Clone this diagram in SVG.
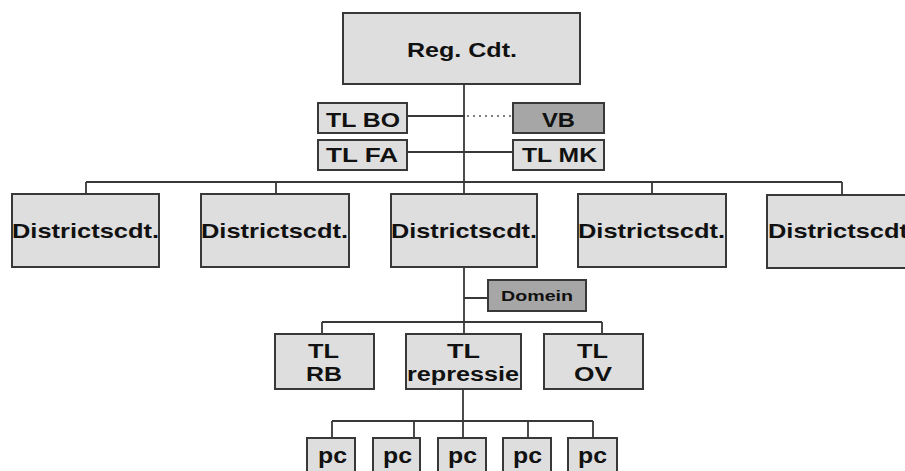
<svg xmlns="http://www.w3.org/2000/svg" width="905" height="471" viewBox="0 0 905 471">
<style>
.box{fill:#dedede;stroke:#383838;stroke-width:2}
.dark{fill:#a6a6a6;stroke:#383838;stroke-width:2}
.t{font-family:"Liberation Sans",Arial,sans-serif;font-weight:bold;fill:#111}
.c{stroke:#383838;stroke-width:1.8;fill:none}
.dot{stroke:#555;stroke-width:1.6;stroke-dasharray:2 4;fill:none}
</style>
<rect width="905" height="471" fill="#fff"/>
<g id="connectors">
<path class="c" d="M464 84V194"/>
<path class="c" d="M407 116H465"/>
<path class="dot" d="M467 116H513"/>
<path class="c" d="M407 152H513"/>
<path class="c" d="M86 182H842M86 182V194M276 182V194M652 182V194M842 182V194"/>
<path class="c" d="M464 267V334M464 298H488"/>
<path class="c" d="M322 322H602M322 322V334M602 322V334"/>
<path class="c" d="M463 389V438M332 421H593M332 421V438M414 421V438M528 421V438M593 421V438"/>
</g>
<g id="reg"><rect class="box" x="343" y="13" width="237" height="71"/><text class="t" x="407" y="57" font-size="20" textLength="110" lengthAdjust="spacingAndGlyphs">Reg. Cdt.</text></g>
<g id="tlbo"><rect class="box" x="318" y="103" width="89" height="30"/><text class="t" x="326" y="127" font-size="21" textLength="74" lengthAdjust="spacingAndGlyphs">TL BO</text></g>
<g id="vb"><rect class="dark" x="513" y="103" width="91" height="30"/><text class="t" x="542" y="127" font-size="21" textLength="33" lengthAdjust="spacingAndGlyphs">VB</text></g>
<g id="tlfa"><rect class="box" x="318" y="140" width="89" height="30"/><text class="t" x="326" y="162" font-size="21" textLength="72" lengthAdjust="spacingAndGlyphs">TL FA</text></g>
<g id="tlmk"><rect class="box" x="513" y="140" width="91" height="30"/><text class="t" x="522" y="162" font-size="21" textLength="75" lengthAdjust="spacingAndGlyphs">TL MK</text></g>
<g id="d1"><rect class="box" x="12" y="194" width="147" height="73"/><text class="t" x="12" y="238" font-size="21" textLength="147" lengthAdjust="spacingAndGlyphs">Districtscdt.</text></g>
<g id="d2"><rect class="box" x="201" y="194" width="148" height="73"/><text class="t" x="201" y="238" font-size="21" textLength="147" lengthAdjust="spacingAndGlyphs">Districtscdt.</text></g>
<g id="d3"><rect class="box" x="391" y="194" width="146" height="73"/><text class="t" x="391" y="238" font-size="21" textLength="146" lengthAdjust="spacingAndGlyphs">Districtscdt.</text></g>
<g id="d4"><rect class="box" x="578" y="194" width="148" height="73"/><text class="t" x="578" y="238" font-size="21" textLength="147" lengthAdjust="spacingAndGlyphs">Districtscdt.</text></g>
<g id="d5"><rect class="box" x="767" y="195" width="150" height="73"/><text class="t" x="768" y="238" font-size="21" textLength="147" lengthAdjust="spacingAndGlyphs">Districtscdt.</text></g>
<g id="domein"><rect class="dark" x="488" y="280" width="98" height="31"/><text class="t" x="501" y="301" font-size="14" textLength="72" lengthAdjust="spacingAndGlyphs">Domein</text></g>
<g id="tlrb"><rect class="box" x="275" y="334" width="99" height="55"/><text class="t" x="308" y="358" font-size="20" textLength="31" lengthAdjust="spacingAndGlyphs">TL</text><text class="t" x="306" y="381" font-size="20" textLength="36" lengthAdjust="spacingAndGlyphs">RB</text></g>
<g id="tlrep"><rect class="box" x="406" y="334" width="115" height="55"/><text class="t" x="447" y="358" font-size="20" textLength="33" lengthAdjust="spacingAndGlyphs">TL</text><text class="t" x="407" y="381" font-size="20" textLength="112" lengthAdjust="spacingAndGlyphs">repressie</text></g>
<g id="tlov"><rect class="box" x="544" y="334" width="99" height="55"/><text class="t" x="577" y="358" font-size="20" textLength="31" lengthAdjust="spacingAndGlyphs">TL</text><text class="t" x="574" y="381" font-size="20" textLength="38" lengthAdjust="spacingAndGlyphs">OV</text></g>
<g id="pc1"><rect class="box" x="307" y="438" width="48" height="45"/><text class="t" x="318" y="463" font-size="22" textLength="29" lengthAdjust="spacingAndGlyphs">pc</text></g>
<g id="pc2"><rect class="box" x="373" y="438" width="47" height="45"/><text class="t" x="383" y="463" font-size="22" textLength="29" lengthAdjust="spacingAndGlyphs">pc</text></g>
<g id="pc3"><rect class="box" x="438" y="438" width="48" height="45"/><text class="t" x="448" y="463" font-size="22" textLength="29" lengthAdjust="spacingAndGlyphs">pc</text></g>
<g id="pc4"><rect class="box" x="503" y="438" width="48" height="45"/><text class="t" x="513" y="463" font-size="22" textLength="29" lengthAdjust="spacingAndGlyphs">pc</text></g>
<g id="pc5"><rect class="box" x="568" y="438" width="49" height="45"/><text class="t" x="578" y="463" font-size="22" textLength="29" lengthAdjust="spacingAndGlyphs">pc</text></g>
</svg>
